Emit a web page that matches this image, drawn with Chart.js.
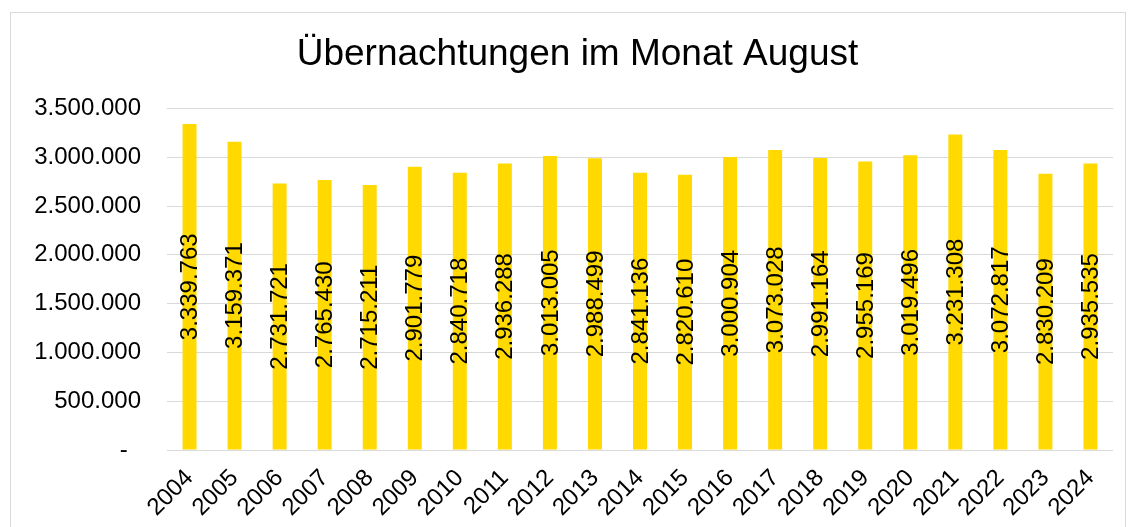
<!DOCTYPE html>
<html>
<head>
<meta charset="utf-8">
<script src="https://cdn.jsdelivr.net/npm/chart.js@4/dist/chart.umd.min.js"></script>
<style>
  html, body { margin: 0; padding: 0; background: #fff; }
  #wrap { width: 1135px; height: 527px; position: relative; }
</style>
</head>
<body>
<div id="wrap"><canvas id="chart" width="1135" height="527"></canvas></div>
<script>
// Jahre und Übernachtungen im August
const years = ['2004', '2005', '2006', '2007', '2008', '2009', '2010', '2011', '2012', '2013', '2014',
               '2015', '2016', '2017', '2018', '2019', '2020', '2021', '2022', '2023', '2024'];
const overnightStays = [3339763, 3159371, 2731721, 2765430, 2715211, 2901779, 2840718, 2936288, 3013005,
                        2988499, 2841136, 2820610, 3000904, 3073028, 2991164, 2955169, 3019496, 3231308,
                        3072817, 2830209, 2935535];
const yTicks = [0, 500000, 1000000, 1500000, 2000000, 2500000, 3000000, 3500000];

const FONT = '"Liberation Sans", Arial, sans-serif';

function formatDE(v) {
    return String(Math.round(v)).replace(/\B(?=(\d{3})+(?!\d))/g, '.');
}

// outer frame like the Excel chart border
const framePlugin = {
    id: 'frame',
    beforeDraw(chart) {
        const ctx = chart.ctx;
        ctx.save();
        ctx.fillStyle = '#fff';
        ctx.fillRect(0, 0, chart.width, chart.height);
        ctx.strokeStyle = '#D9D9D9';
        ctx.lineWidth = 1;
        ctx.strokeRect(10.5, 12.5, 1115, 530);
        ctx.restore();
    },
    afterLayout(chart) {
        // title sits a bit right of the canvas centre in the original
        if (chart.titleBlock) {
            chart.titleBlock.left += 21;
            chart.titleBlock.right += 21;
        }
    }
};

// vertical value labels in the middle of each bar
const barLabels = {
    id: 'barLabels',
    afterDatasetsDraw(chart) {
        const ctx = chart.ctx;
        const meta = chart.getDatasetMeta(0);
        ctx.save();
        ctx.font = '24px ' + FONT;
        ctx.fillStyle = '#000';
        ctx.textAlign = 'center';
        ctx.textBaseline = 'middle';
        meta.data.forEach((bar, i) => {
            const cy = (bar.y + bar.base) / 2;
            ctx.save();
            ctx.translate(bar.x + 1, cy);
            ctx.rotate(-Math.PI / 2);
            ctx.fillText(formatDE(overnightStays[i]), 0, 0);
            ctx.restore();
        });
        ctx.restore();
    }
};

new Chart(document.getElementById('chart'), {
    type: 'bar',
    data: {
        labels: years,
        datasets: [{
            data: overnightStays,
            backgroundColor: '#FFD900',
            borderWidth: 0,
            categoryPercentage: 1,
            barPercentage: 0.31
        }]
    },
    options: {
        responsive: false,
        animation: false,
        layout: { padding: { left: 0, right: 22, top: 0, bottom: 0 } },
        plugins: {
            legend: { display: false },
            tooltip: { enabled: false },
            title: {
                display: true,
                text: 'Übernachtungen im Monat August',
                color: '#000',
                font: { family: FONT, size: 37, weight: 'normal', lineHeight: 1.2 },
                padding: { top: 33, bottom: 31 }
            }
        },
        scales: {
            x: {
                grid: { display: false },
                border: { display: false },
                ticks: {
                    color: '#000',
                    font: { family: FONT, size: 24 },
                    minRotation: 45,
                    maxRotation: 45,
                    padding: 6
                },
                afterFit(axis) { axis.height = 77; }
            },
            y: {
                min: 0,
                max: 3500000,
                afterBuildTicks(axis) { axis.ticks = yTicks.map(v => ({ value: v })); },
                grid: { color: '#D9D9D9', lineWidth: 1, drawTicks: false },
                border: { display: false },
                ticks: {
                    color: '#000',
                    font: { family: FONT, size: 24 },
                    padding: 26,
                    callback: v => v === 0 ? '-  ' : formatDE(v)
                },
                afterFit(axis) { axis.width = 167; }
            }
        }
    },
    plugins: [framePlugin, barLabels]
});
</script>
</body>
</html>
